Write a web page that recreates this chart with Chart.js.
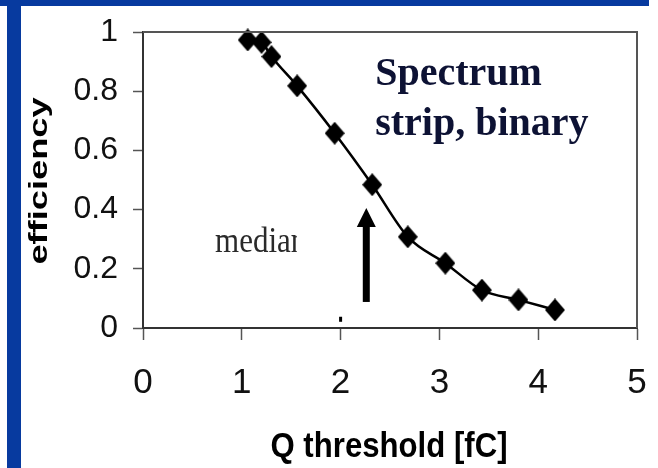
<!DOCTYPE html>
<html>
<head>
<meta charset="utf-8">
<script src="https://cdn.jsdelivr.net/npm/chart.js@4.4.1/dist/chart.umd.min.js"></script>
<style>
  html, body { margin: 0; padding: 0; background: #ffffff; }
  #c { display: block; }
</style>
</head>
<body>
<canvas id="c" width="658" height="468"></canvas>
<script>
// Discriminator threshold scan: efficiency versus charge threshold
const thresholds = [1.06, 1.20, 1.30, 1.56, 1.94, 2.32, 2.68, 3.06, 3.43, 3.80, 4.17];
const efficiency = [0.973, 0.965, 0.917, 0.818, 0.658, 0.484, 0.308, 0.219, 0.128, 0.095, 0.061];

const xTickValues = [0, 1, 2, 3, 4, 5];
const yTickValues = [0, 0.2, 0.4, 0.6, 0.8, 1];
const yTickLabels = ['0', '0.2', '0.4', '0.6', '0.8', '1'];

const xTitle = 'Q threshold [fC]';
const yTitle = 'efficiency';
const noteLines = ['Spectrum', 'strip, binary'];
const medianText = 'median';

// annotation anchors, in data units
const noteAnchor = { x: 2.35, y1: 0.821, y2: 0.652 };
const medianAnchor = { x: 0.73, y: 0.257 };
const medianArrow = { x: 2.26, from: 0.088, to: 0.405 };
const stubMark = { x: 2.0, from: 0.021, to: 0.038 };

const FRAME_BLUE = '#073a9f';
const SANS = '"Liberation Sans", Arial, Helvetica, sans-serif';
const SERIF = '"Liberation Serif", "Times New Roman", serif';

// diamond marker, a little taller than wide
function makeDiamond(w, h) {
  const cv = document.createElement('canvas');
  cv.width = w; cv.height = h;
  const g = cv.getContext('2d');
  g.fillStyle = '#000';
  g.beginPath();
  g.moveTo(w / 2, 0);
  g.lineTo(w, h / 2);
  g.lineTo(w / 2, h);
  g.lineTo(0, h / 2);
  g.closePath();
  g.fill();
  return cv;
}
const diamond = makeDiamond(20, 23);

const decorations = {
  id: 'decorations',
  beforeDraw(chart) {
    const ctx = chart.ctx;
    ctx.save();
    ctx.fillStyle = '#ffffff';
    ctx.fillRect(0, 0, chart.width, chart.height);
    ctx.fillStyle = FRAME_BLUE;
    ctx.fillRect(0, 0, 649, 6);
    ctx.fillRect(7, 0, 14, chart.height);
    ctx.restore();
  },
  afterDatasetsDraw(chart) {
    const ctx = chart.ctx;
    const xs = chart.scales.x, ys = chart.scales.y;
    const a = chart.chartArea;
    ctx.save();

    // top and right edges of the plot frame
    ctx.strokeStyle = '#555555';
    ctx.lineWidth = 2;
    ctx.beginPath();
    ctx.moveTo(a.left, a.top);
    ctx.lineTo(a.right, a.top);
    ctx.lineTo(a.right, a.bottom);
    ctx.stroke();

    // note text
    ctx.fillStyle = '#0d1234';
    ctx.font = 'bold 40px ' + SERIF;
    ctx.textAlign = 'left';
    ctx.textBaseline = 'alphabetic';
    ctx.fillText(noteLines[0], xs.getPixelForValue(noteAnchor.x), ys.getPixelForValue(noteAnchor.y1));
    ctx.fillText(noteLines[1], xs.getPixelForValue(noteAnchor.x), ys.getPixelForValue(noteAnchor.y2));

    // "median" label, its last letter mostly covered
    ctx.save();
    const mx = xs.getPixelForValue(medianAnchor.x);
    const my = ys.getPixelForValue(medianAnchor.y);
    ctx.font = '31px ' + SERIF;
    const visibleW = ctx.measureText(medianText.slice(0, 5)).width + 0.19 * 31;
    ctx.beginPath();
    ctx.rect(mx - 5, my - 60, visibleW + 5, 80);
    ctx.clip();
    ctx.translate(mx, my);
    ctx.scale(1, 1.15);
    ctx.fillStyle = '#2a2a2a';
    ctx.textAlign = 'left';
    ctx.fillText(medianText, 0, 0);
    ctx.restore();

    // arrow pointing at the median
    const ax = xs.getPixelForValue(medianArrow.x);
    const ay0 = ys.getPixelForValue(medianArrow.from);
    const ay1 = ys.getPixelForValue(medianArrow.to);
    ctx.fillStyle = '#000';
    ctx.fillRect(ax - 3.5, ay1 + 16, 7, ay0 - ay1 - 16);
    ctx.beginPath();
    ctx.moveTo(ax, ay1);
    ctx.lineTo(ax + 9.5, ay1 + 19);
    ctx.lineTo(ax - 9.5, ay1 + 19);
    ctx.closePath();
    ctx.fill();

    // small stub above the axis
    const sx = xs.getPixelForValue(stubMark.x);
    ctx.fillRect(sx - 1.5, ys.getPixelForValue(stubMark.to), 3, ys.getPixelForValue(stubMark.from) - ys.getPixelForValue(stubMark.to));

    // axis titles
    ctx.fillStyle = '#000';
    ctx.save();
    ctx.translate((a.left + a.right) / 2 - 1, 457);
    ctx.scale(0.89, 1);
    ctx.font = 'bold 35px ' + SANS;
    ctx.textAlign = 'center';
    ctx.textBaseline = 'alphabetic';
    ctx.fillText(xTitle, 0, 0);
    ctx.restore();

    ctx.save();
    ctx.translate(40, (a.top + a.bottom) / 2 + 1);
    ctx.rotate(-Math.PI / 2);
    ctx.scale(1.45, 1);
    ctx.font = 'bold 25px ' + SANS;
    ctx.textAlign = 'center';
    ctx.textBaseline = 'middle';
    ctx.fillText(yTitle, 0, 0);
    ctx.restore();

    ctx.restore();
  }
};

new Chart(document.getElementById('c'), {
  type: 'line',
  data: {
    datasets: [{
      data: thresholds.map((x, i) => ({ x: x, y: efficiency[i] })),
      borderColor: '#000000',
      backgroundColor: '#000000',
      borderWidth: 2.5,
      cubicInterpolationMode: 'monotone',
      pointStyle: diamond,
      pointRadius: 10,
      pointHoverRadius: 10,
      fill: false,
      clip: false
    }]
  },
  options: {
    responsive: false,
    animation: false,
    events: [],
    layout: { padding: { left: 0, top: 32, right: 21, bottom: 0 } },
    plugins: {
      legend: { display: false },
      tooltip: { enabled: false }
    },
    scales: {
      x: {
        type: 'linear',
        min: 0,
        max: 5,
        afterFit(scale) {
          scale.height = 140;
          scale.paddingLeft = 0;
          scale.paddingRight = 0;
        },
        afterBuildTicks(scale) { scale.ticks = xTickValues.map(v => ({ value: v })); },
        grid: {
          drawOnChartArea: false,
          drawTicks: true,
          tickLength: 12,
          tickColor: '#555555',
          tickWidth: 1.5
        },
        border: { display: true, color: '#333333', width: 2 },
        ticks: {
          color: '#111111',
          padding: 22,
          font: { family: SANS, size: 35 },
          callback: (v) => String(v)
        },
        title: { display: false }
      },
      y: {
        type: 'linear',
        min: 0,
        max: 1,
        afterFit(scale) {
          scale.width = 143;
          scale.paddingTop = 0;
          scale.paddingBottom = 0;
        },
        afterBuildTicks(scale) { scale.ticks = yTickValues.map(v => ({ value: v })); },
        grid: {
          drawOnChartArea: false,
          drawTicks: true,
          tickLength: 10,
          tickColor: '#555555',
          tickWidth: 1.5
        },
        border: { display: true, color: '#333333', width: 2 },
        ticks: {
          color: '#111111',
          padding: 15,
          font: { family: SANS, size: 32 },
          callback: (v) => yTickLabels[yTickValues.indexOf(v)]
        },
        title: { display: false }
      }
    }
  },
  plugins: [decorations]
});
</script>
</body>
</html>
